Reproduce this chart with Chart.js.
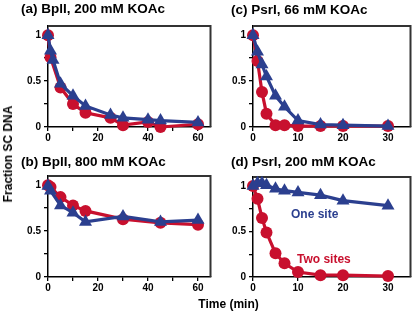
<!DOCTYPE html>
<html><head><meta charset="utf-8">
<script src="https://cdn.jsdelivr.net/npm/chart.js@4.4.1/dist/chart.umd.min.js"></script>
<style>
body{margin:0;width:418px;height:312px;background:#fff;position:relative;overflow:hidden;font-family:"Liberation Sans",Arial,sans-serif;}
canvas{position:absolute;}
.t{position:absolute;font-weight:bold;white-space:nowrap;line-height:13px;font-size:13.5px;color:#000;}
.s{position:absolute;font-weight:bold;white-space:nowrap;line-height:12px;font-size:12px;}
</style></head><body>
<canvas id="ca" width="218" height="145" style="left:0;top:0"></canvas>
<canvas id="cc" width="213" height="145" style="left:205px;top:0"></canvas>
<canvas id="cb" width="218" height="145" style="left:0;top:150px"></canvas>
<canvas id="cd" width="213" height="145" style="left:205px;top:150px"></canvas>
<div class="t" style="left:21px;top:2px">(a) BplI, 200 mM KOAc</div>
<div class="t" style="left:231px;top:3px">(c) PsrI, 66 mM KOAc</div>
<div class="t" style="left:21px;top:155px">(b) BplI, 800 mM KOAc</div>
<div class="t" style="left:231px;top:155px">(d) PsrI, 200 mM KOAc</div>
<div class="s" style="left:7.5px;top:153.5px;transform:translate(-50%,-50%) rotate(-90deg);">Fraction SC DNA</div>
<div class="s" style="left:228.5px;top:304px;transform:translate(-50%,-50%);">Time (min)</div>
<div class="s" style="left:291px;top:208px;color:#2B3F8F">One site</div>
<div class="s" style="left:297px;top:253px;color:#C8102E">Two sites</div>
<script>
// ---- data ----
const aTimeRed  = [0, 1, 5, 10, 15, 25, 30, 40, 45, 60];
const aRed      = [1.0, 0.76, 0.43, 0.25, 0.155, 0.10, 0.02, 0.055, 0.0, 0.03];
const aTimeBlue = [0, 1, 2, 5, 10, 15, 25, 30, 40, 45, 60];
const aBlue     = [1.0, 0.83, 0.73, 0.47, 0.34, 0.23, 0.13, 0.10, 0.08, 0.07, 0.05];

const bTimeRed  = [0, 1, 5, 10, 15, 30, 45, 60];
const bRed      = [1.0, 0.98, 0.87, 0.78, 0.72, 0.63, 0.59, 0.57];
const bTimeBlue = [0, 1, 5, 10, 15, 30, 45, 60];
const bBlue     = [0.99, 0.94, 0.78, 0.70, 0.60, 0.66, 0.60, 0.62];

const cdTime = [0, 1, 2, 3, 5, 7, 10, 15, 20, 30];
const cRed   = [1.0, 0.72, 0.38, 0.145, 0.02, 0.02, 0.01, 0.01, 0.01, 0.01];
const cBlue  = [1.0, 0.82, 0.68, 0.55, 0.34, 0.22, 0.07, 0.026, 0.02, 0.01];
const dRed   = [1.0, 0.86, 0.65, 0.49, 0.26, 0.15, 0.055, 0.02, 0.02, 0.01];
const dBlue  = [1.0, 1.03, 1.03, 1.01, 0.97, 0.95, 0.93, 0.90, 0.84, 0.785];

const yTicks = [0, 0.25, 0.5, 0.75, 1];
const yLabels = [0, 0.5, 1];
const xTicks60 = [0, 10, 20, 30, 40, 50, 60];
const xLabels60 = [0, 20, 40, 60];
const xTicks30 = [0, 10, 20, 30];
const xLabels30 = [0, 10, 20, 30];

const RED = '#C8102E', BLUE = '#2B3F8F';
const tickFont = {family: '"Liberation Sans", Arial, sans-serif', size: 10, weight: 'bold'};

const boxPlugin = {
  id: 'box',
  beforeDatasetsDraw(ch) {
    const a = ch.chartArea, c = ch.ctx;
    c.save(); c.strokeStyle = '#333'; c.lineWidth = 2;
    c.beginPath(); c.moveTo(a.left, a.top); c.lineTo(a.right, a.top); c.lineTo(a.right, a.bottom); c.stroke();
    c.restore();
  }
};

function pts(xs, ys) { return xs.map((x, i) => ({x: x, y: ys[i]})); }

function makeChart(id, redX, redY, blueX, blueY, xmax, xT, xL, padTop, padRight) {
  new Chart(document.getElementById(id), {
    type: 'line',
    data: {
      datasets: [
        {data: pts(blueX, blueY), borderColor: BLUE, backgroundColor: BLUE, borderWidth: 3.2,
         pointStyle: 'triangle', pointRadius: 7.5, pointBorderWidth: 0, clip: false, order: 0},
        {data: pts(redX, redY), borderColor: RED, backgroundColor: RED, borderWidth: 3.2,
         pointStyle: 'circle', pointRadius: 6, pointBorderWidth: 0, clip: false, order: 1}
      ]
    },
    options: {
      responsive: false, animation: false,
      layout: {padding: {top: padTop, right: padRight, left: 0, bottom: 0}},
      plugins: {legend: {display: false}, tooltip: {enabled: false}},
      scales: {
        x: {
          type: 'linear', min: 0, max: xmax,
          afterBuildTicks: s => { s.ticks = xT.map(v => ({value: v})); },
          afterFit: s => { s.height = 18; },
          ticks: {autoSkip: false, maxRotation: 0, padding: 1, color: '#000', font: tickFont,
                  callback: v => xL.includes(v) ? String(v) : ''},
          grid: {drawOnChartArea: false, drawTicks: true, tickLength: 4, color: '#000', tickColor: '#000', lineWidth: 1.3},
          border: {display: true, color: '#000', width: 1.5}
        },
        y: {
          type: 'linear', min: 0, max: 1.1,
          afterBuildTicks: s => { s.ticks = yTicks.map(v => ({value: v})); },
          afterFit: s => { s.width = 48; },
          ticks: {autoSkip: false, padding: 3, color: '#000', font: tickFont,
                  callback: v => yLabels.includes(v) ? String(v) : ''},
          grid: {drawOnChartArea: false, drawTicks: true, tickLength: 4, color: '#000', tickColor: '#000', lineWidth: 1.3},
          border: {display: true, color: '#000', width: 1.5}
        }
      }
    },
    plugins: [boxPlugin]
  });
}

makeChart('ca', aTimeRed, aRed, aTimeBlue, aBlue, 65, xTicks60, xLabels60, 26, 6);
makeChart('cb', bTimeRed, bRed, bTimeBlue, bBlue, 65, xTicks60, xLabels60, 26, 6);
makeChart('cc', cdTime, cRed, cdTime, cBlue, 35, xTicks30, xLabels30, 26, 2);
makeChart('cd', cdTime, dRed, cdTime, dBlue, 35, xTicks30, xLabels30, 27, 2);
</script>
</body></html>
